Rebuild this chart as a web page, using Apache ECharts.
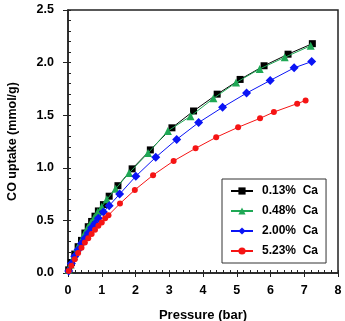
<!DOCTYPE html>
<html>
<head>
<meta charset="utf-8">
<script src="https://cdn.jsdelivr.net/npm/echarts@6/dist/echarts.min.js"></script>
<style>
html, body { margin: 0; padding: 0; background: #fff; }
#chart { width: 345px; height: 321px; }
</style>
</head>
<body>
<div id="chart"></div>
<script>
// 数据：压力 (bar) 与 CO 吸附量 (mmol/g)
const seriesNames = ['0.13%  Ca', '0.48%  Ca', '2.00%  Ca', '5.23%  Ca'];

const p013 = [0.02, 0.1, 0.2, 0.3, 0.4, 0.5, 0.6, 0.7, 0.8, 0.9, 1.05, 1.22, 1.48, 1.9, 2.44, 3.08, 3.72, 4.42, 5.1, 5.81, 6.52, 7.24];
const q013 = [0.03, 0.1, 0.18, 0.25, 0.31, 0.38, 0.44, 0.49, 0.54, 0.59, 0.65, 0.73, 0.83, 0.99, 1.17, 1.38, 1.54, 1.70, 1.84, 1.97, 2.08, 2.18];

const p048 = [0.02, 0.08, 0.18, 0.28, 0.38, 0.48, 0.58, 0.68, 0.78, 0.88, 1.0, 1.15, 1.41, 1.81, 2.37, 2.96, 3.63, 4.31, 4.98, 5.68, 6.42, 7.19];
const q048 = [0.03, 0.08, 0.16, 0.24, 0.30, 0.37, 0.43, 0.48, 0.53, 0.58, 0.63, 0.70, 0.80, 0.95, 1.14, 1.35, 1.49, 1.66, 1.81, 1.94, 2.05, 2.16];

const p200 = [0.02, 0.1, 0.2, 0.3, 0.4, 0.5, 0.6, 0.7, 0.8, 0.9, 1.05, 1.22, 1.53, 2.01, 2.6, 3.22, 3.87, 4.58, 5.29, 5.99, 6.7, 7.22];
const q200 = [0.02, 0.09, 0.16, 0.22, 0.28, 0.33, 0.38, 0.43, 0.47, 0.52, 0.58, 0.64, 0.75, 0.92, 1.10, 1.27, 1.43, 1.575, 1.71, 1.83, 1.95, 2.01];

const p523 = [0.02, 0.1, 0.2, 0.3, 0.4, 0.5, 0.6, 0.7, 0.8, 0.9, 1.0, 1.1, 1.2, 1.54, 1.98, 2.52, 3.13, 3.78, 4.39, 5.04, 5.69, 6.1, 6.79, 7.04];
const q523 = [0.02, 0.07, 0.13, 0.19, 0.24, 0.29, 0.33, 0.37, 0.41, 0.45, 0.48, 0.52, 0.55, 0.66, 0.79, 0.93, 1.065, 1.185, 1.29, 1.385, 1.47, 1.53, 1.61, 1.64];

const colors = ['#000000', '#1fa855', '#0a14f5', '#f51414'];
const symbols = ['rect', 'triangle', 'diamond', 'circle'];
const sizes = [7, 8, 9, 6];

const pairs = (xs, ys) => xs.map((x, i) => [x, ys[i]]);
const allData = [pairs(p013, q013), pairs(p048, q048), pairs(p200, q200), pairs(p523, q523)];

const font = 'Arial, "Liberation Sans", sans-serif';
const axisColor = '#222';

const myChart = echarts.init(document.getElementById('chart'));
const options = {
    animation: false,
    textStyle: { fontFamily: font },
    grid: {
        left: 68, right: 7, top: 10, bottom: 48,
        outerBoundsMode: 'none',
        containLabel: false,
        show: true, borderColor: axisColor, borderWidth: 1.5,
    },
    legend: {
        orient: 'vertical',
        left: 222, top: 179,
        data: seriesNames,
        itemWidth: 22, itemHeight: 9,
        itemGap: 8,
        padding: [6, 8, 6, 8],
        borderColor: '#333', borderWidth: 1,
        backgroundColor: '#fff',
        textStyle: { fontFamily: font, fontWeight: 'bold', fontSize: 12, color: '#000', padding: [0, 0, 0, 4] },
    },
    xAxis: [
        {
            type: 'value', min: 0, max: 8, interval: 1,
            name: 'Pressure (bar)', nameLocation: 'middle', nameGap: 36,
            nameTextStyle: { fontFamily: font, fontWeight: 'bold', fontSize: 13, color: '#000' },
            axisLine: { lineStyle: { color: axisColor, width: 1.5 } },
            axisTick: { length: 4, lineStyle: { color: axisColor } },
            axisLabel: { margin: 11, fontFamily: font, fontWeight: 'bold', fontSize: 12.5, color: '#000' },
            splitLine: { show: false },
        },
        {
            // 内侧小刻度
            type: 'value', min: 0, max: 8, interval: 0.2, position: 'bottom',
            axisLine: { show: false },
            axisTick: { inside: true, length: 3, lineStyle: { color: axisColor } },
            axisLabel: { show: false },
            splitLine: { show: false },
        },
    ],
    yAxis: [
        {
            type: 'value', min: 0, max: 2.5, interval: 0.5,
            name: 'CO uptake (mmol/g)', nameLocation: 'middle', nameGap: 49, nameRotate: 90,
            nameTextStyle: { fontFamily: font, fontWeight: 'bold', fontSize: 12.5, color: '#000' },
            axisLine: { show: true, lineStyle: { color: axisColor, width: 1.5 } },
            axisTick: { show: true, length: 5, lineStyle: { color: axisColor } },
            axisLabel: { margin: 14, fontFamily: font, fontWeight: 'bold', fontSize: 12.5, color: '#000', formatter: v => v.toFixed(1) },
            splitLine: { show: false },
        },
        {
            type: 'value', min: 0, max: 2.5, interval: 0.1, position: 'left',
            axisLine: { show: false },
            axisTick: { show: true, inside: true, length: 3, lineStyle: { color: axisColor } },
            axisLabel: { show: false },
            splitLine: { show: false },
        },
    ],
    series: seriesNames.map((name, i) => ({
        name: name,
        type: 'line',
        data: allData[i],
        symbol: symbols[i],
        symbolSize: sizes[i],
        showSymbol: true,
        color: colors[i],
        lineStyle: { width: 1, color: colors[i] },
        itemStyle: { color: colors[i] },
        z: 2 + i,
    })),
};
myChart.setOption(options);
</script>
</body>
</html>
